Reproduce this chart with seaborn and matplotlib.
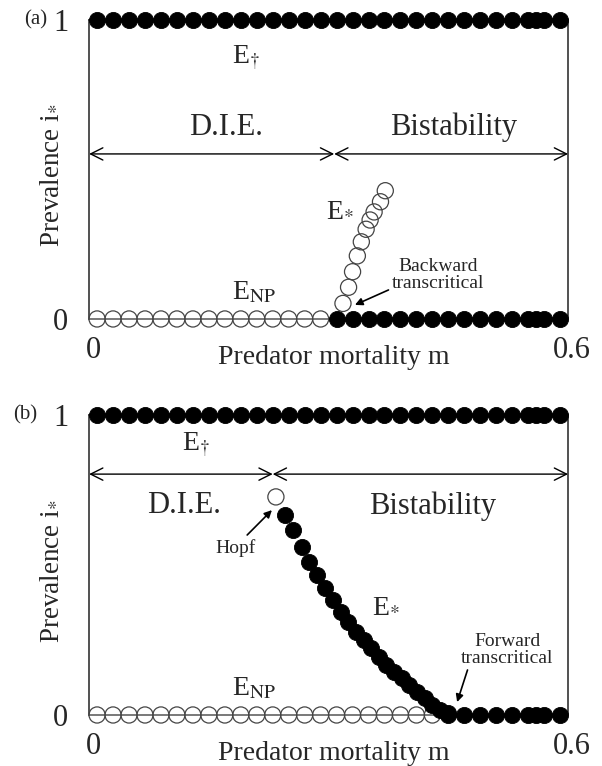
import numpy as np
import pandas as pd
import matplotlib
matplotlib.use("Agg")
import matplotlib.pyplot as plt
import matplotlib.transforms as mtrans
import seaborn as sns

# ---------------- data ----------------
m_row = [0.01, 0.03, 0.05, 0.07, 0.09, 0.11, 0.13, 0.15, 0.17, 0.19, 0.21, 0.23,
         0.25, 0.27, 0.29, 0.31, 0.33, 0.35, 0.37, 0.39, 0.41, 0.43, 0.45, 0.47,
         0.49, 0.51, 0.53, 0.55, 0.56, 0.57, 0.59]

# panel (a)
a_np_open_m = [0.01, 0.03, 0.05, 0.07, 0.09, 0.11, 0.13, 0.15, 0.17, 0.19, 0.21,
               0.23, 0.25, 0.27, 0.29]
a_np_stable_m = [0.31, 0.33, 0.35, 0.37, 0.39, 0.41, 0.43, 0.45, 0.47, 0.49, 0.51,
                 0.53, 0.55, 0.56, 0.57, 0.59]
a_star_m = [0.318, 0.325, 0.330, 0.336, 0.341, 0.347, 0.352, 0.357, 0.365, 0.371]
a_star_i = [0.052, 0.106, 0.158, 0.211, 0.258, 0.300, 0.331, 0.358, 0.392, 0.429]

# panel (b)
b_np_open_m = [0.01, 0.03, 0.05, 0.07, 0.09, 0.11, 0.13, 0.15, 0.17, 0.19, 0.21,
               0.23, 0.25, 0.27, 0.29, 0.31, 0.33, 0.35, 0.37, 0.39, 0.41, 0.43]
b_np_stable_m = [0.45, 0.47, 0.49, 0.51, 0.53, 0.55, 0.56, 0.57, 0.59]
b_star_m = [0.245, 0.255, 0.267, 0.276, 0.286, 0.295, 0.305, 0.315, 0.324, 0.334,
            0.344, 0.353, 0.363, 0.372, 0.382, 0.392, 0.401, 0.411, 0.421, 0.430,
            0.440, 0.450]
b_star_i = [0.667, 0.617, 0.561, 0.511, 0.467, 0.422, 0.383, 0.344, 0.311, 0.278,
            0.250, 0.222, 0.194, 0.167, 0.144, 0.122, 0.100, 0.078, 0.056, 0.033,
            0.017, 0.006]
b_hopf_m = [0.234]
b_hopf_i = [0.727]

x_ticks = [0, 0.6]
x_ticklabels = ["0", "0.6"]
y_ticks = [0, 1]
y_ticklabels = ["0", "1"]

# ---------------- style ----------------
sns.set_style("white")
plt.rcParams["font.family"] = ["Liberation Serif", "DejaVu Serif"]
plt.rcParams["mathtext.fontset"] = "stix"

fig = plt.figure(figsize=(6.02, 7.66), dpi=100)
ax_a = fig.add_axes([0.148, 0.5836, 0.7957, 0.3903])
ax_b = fig.add_axes([0.148, 0.0666, 0.7957, 0.3916])

S = 135
FILL = dict(color="black", edgecolor="black", linewidth=0.6, s=S, zorder=4,
            clip_on=False, legend=False)
OPEN = dict(facecolor="none", edgecolor="#444444", linewidth=0.9, s=S, zorder=3,
            clip_on=False, legend=False)


def dots(ax, m, i, style):
    df = pd.DataFrame({"m": m, "i": i})
    sns.scatterplot(data=df, x="m", y="i", ax=ax, **style)


def base(ax, label, label_x):
    ax.set_xlim(0, 0.6)
    ax.set_ylim(0, 1)
    ax.set_xticks(x_ticks)
    ax.set_xticklabels(x_ticklabels)
    ax.set_yticks(y_ticks)
    ax.set_yticklabels(y_ticklabels)
    ax.tick_params(axis="both", length=0, labelsize=22)
    ax.tick_params(axis="x", pad=12)
    ax.tick_params(axis="y", pad=15)
    for lab in ax.get_xticklabels():
        lab.set_transform(lab.get_transform() +
                          mtrans.ScaledTranslation(4 / 100, 0, fig.dpi_scale_trans))
    for s in ax.spines.values():
        s.set_color("#222222")
        s.set_linewidth(1.1)
    ax.spines["bottom"].set_color("#555555")
    ax.set_xlabel("Predator mortality m", fontsize=20)
    ax.xaxis.set_label_coords(0.51, -0.13)
    ax.xaxis.label.set_va("center")
    ax.set_ylabel(r"Prevalence i$_{*}$", fontsize=19.5)
    ax.yaxis.set_label_coords(-0.082, 0.48)
    ax.yaxis.label.set_va("center")
    ax.text(label_x, 1.0, label, transform=ax.transAxes, fontsize=15,
            ha="right", va="center")


def dbl_arrow(ax, x0, x1, y):
    ax.annotate("", xy=(x1, y), xytext=(x0, y),
                arrowprops=dict(arrowstyle="<->", lw=1.0, color="black",
                                shrinkA=0, shrinkB=0, mutation_scale=22))


def ptr(ax, xy, xytext):
    ax.annotate("", xy=xy, xytext=xytext,
                arrowprops=dict(arrowstyle="-|>", lw=1.2, color="black",
                                shrinkA=0, shrinkB=0, mutation_scale=11))


# ---------------- panel (a) ----------------
base(ax_a, "(a)", -0.088)
dots(ax_a, m_row, [1] * len(m_row), FILL)
dots(ax_a, a_np_open_m, [0] * len(a_np_open_m), OPEN)
dots(ax_a, a_np_stable_m, [0] * len(a_np_stable_m), FILL)
dots(ax_a, a_star_m, a_star_i, OPEN)

dbl_arrow(ax_a, 0.0, 0.307, 0.552)
dbl_arrow(ax_a, 0.307, 0.6, 0.552)
ax_a.text(0.172, 0.642, "D.I.E.", fontsize=22, ha="center", va="center")
ax_a.text(0.457, 0.642, "Bistability", fontsize=22, ha="center", va="center")
ax_a.text(0.196, 0.875, r"E$_{\dagger}$", fontsize=20, ha="center", va="center")
ax_a.text(0.314, 0.365, r"E$_{*}$", fontsize=20, ha="center", va="center")
ax_a.text(0.207, 0.088, r"E$_{\rm NP}$", fontsize=20, ha="center", va="center")
ax_a.text(0.437, 0.147, "Backward\ntranscritical", fontsize=14, ha="center",
          va="center", linespacing=1.0)
ptr(ax_a, (0.333, 0.047), (0.375, 0.097))

# ---------------- panel (b) ----------------
base(ax_b, "(b)", -0.109)
dots(ax_b, m_row, [1] * len(m_row), FILL)
dots(ax_b, b_np_open_m, [0] * len(b_np_open_m), OPEN)
dots(ax_b, b_np_stable_m, [0] * len(b_np_stable_m), FILL)
dots(ax_b, b_star_m, b_star_i, FILL)
dots(ax_b, b_hopf_m, b_hopf_i, OPEN)

dbl_arrow(ax_b, 0.0, 0.23, 0.803)
dbl_arrow(ax_b, 0.23, 0.6, 0.803)
ax_b.text(0.119, 0.697, "D.I.E.", fontsize=22, ha="center", va="center")
ax_b.text(0.430, 0.697, "Bistability", fontsize=22, ha="center", va="center")
ax_b.text(0.134, 0.9, r"E$_{\dagger}$", fontsize=20, ha="center", va="center")
ax_b.text(0.372, 0.365, r"E$_{*}$", fontsize=20, ha="center", va="center")
ax_b.text(0.207, 0.088, r"E$_{\rm NP}$", fontsize=20, ha="center", va="center")
ax_b.text(0.184, 0.555, "Hopf", fontsize=14, ha="center", va="center")
ax_b.text(0.524, 0.217, "Forward\ntranscritical", fontsize=14, ha="center",
          va="center", linespacing=1.0)
ptr(ax_b, (0.229, 0.683), (0.198, 0.60))
ptr(ax_b, (0.461, 0.043), (0.474, 0.15))

fig.savefig("out.png", dpi=100)
